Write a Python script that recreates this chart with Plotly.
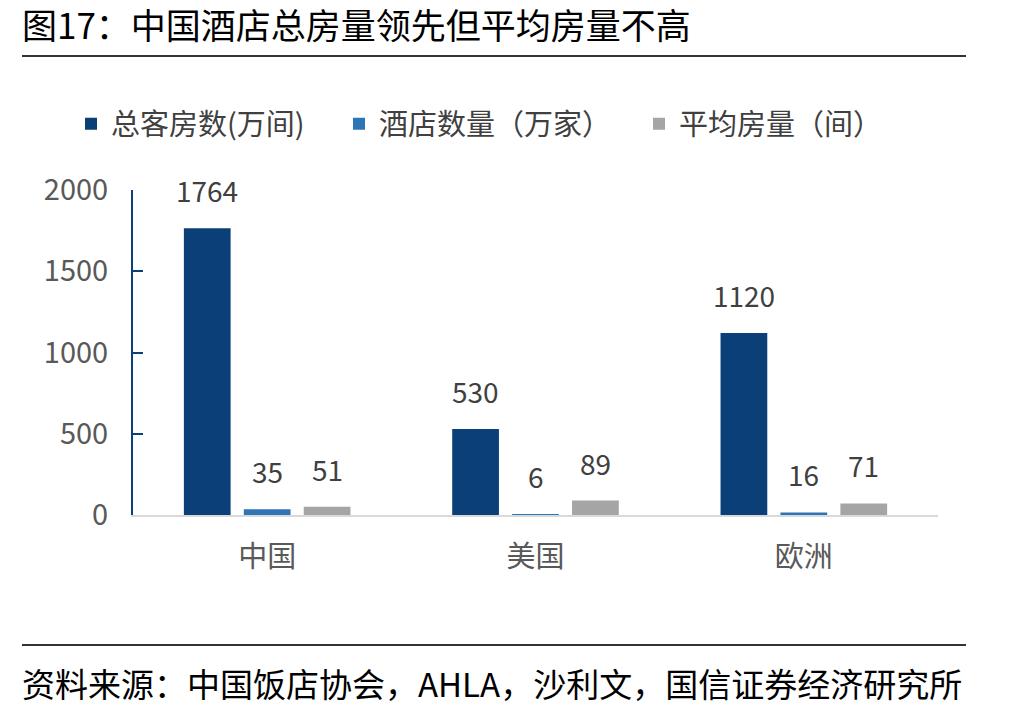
import plotly.graph_objects as go

# ---- data ----
categories = ["中国", "美国", "欧洲"]
series_names = ["总客房数(万间)", "酒店数量（万家）", "平均房量（间）"]
total_rooms = [1764, 530, 1120]
hotel_count = [35, 6, 16]
avg_rooms = [51, 89, 71]
y_ticks = [0, 500, 1000, 1500, 2000]

title_text = "图17：中国酒店总房量领先但平均房量不高"
source_text = "资料来源：中国饭店协会，AHLA，沙利文，国信证券经济研究所"
source_text2 = "整理"

# ---- style ----
W, H = 1016, 712
FONT = "Noto Sans CJK SC"
colors = ["#0B3F78", "#2E75B6", "#A5A5A5"]
plot_left, plot_right, plot_top, plot_bottom = 133, 938, 190, 515
bargap, bargroupgap = 0.33, 0.22
legend_ids = ["legend", "legend2", "legend3"]
legend_px = [71, 339, 639]

def px_x(p):
    return p / W

def px_y(p):
    return 1 - p / H

fig = go.Figure()
all_series = [total_rooms, hotel_count, avg_rooms]
for name, vals, col, lid in zip(series_names, all_series, colors, legend_ids):
    fig.add_trace(go.Bar(x=categories, y=vals, name=name, marker_color=col,
                         marker_line_width=0, hoverinfo="skip", legend=lid,
                         showlegend=True))

# value labels positioned via axis coordinates
cat_w = (plot_right - plot_left) / len(categories)
slot = (1 - bargap) * cat_w / len(all_series)
for si, vals in enumerate(all_series):
    off = (si - (len(all_series) - 1) / 2) * slot
    for c, v in zip(categories, vals):
        fig.add_annotation(x=c, y=v, xref="x", yref="y", text=str(v),
                           showarrow=False, xshift=off, yshift=38,
                           yanchor="middle", xanchor="center",
                           font=dict(family=FONT, size=28, color="#404040"))

legend_style = dict(orientation="h", xanchor="left", yanchor="middle",
                    y=px_y(124), font=dict(family=FONT, size=29, color="#404040"),
                    bgcolor="rgba(0,0,0,0)", itemclick=False, itemdoubleclick=False)

fig.update_layout(
    width=W, height=H,
    showlegend=True,
    margin=dict(l=0, r=0, t=0, b=0, autoexpand=False),
    paper_bgcolor="white", plot_bgcolor="white",
    barmode="group", bargap=bargap, bargroupgap=bargroupgap,
    font=dict(family=FONT, color="#595959"),
    legend=dict(x=px_x(legend_px[0]), **legend_style),
    legend2=dict(x=px_x(legend_px[1]), **legend_style),
    legend3=dict(x=px_x(legend_px[2]), **legend_style),
    xaxis=dict(domain=[px_x(plot_left), px_x(plot_right)], showline=True,
               linecolor="#D9D9D9", linewidth=2, ticks="", showgrid=False,
               automargin=False,
               tickfont=dict(family=FONT, size=29, color="#595959"),
               ticklabelstandoff=15),
    yaxis=dict(domain=[px_y(plot_bottom), px_y(plot_top)], range=[0, 2000],
               tickvals=y_ticks, showline=True, linecolor="#0B3F78", linewidth=2,
               ticks="inside", ticklen=10, tickwidth=2, tickcolor="#0B3F78",
               showgrid=False, zeroline=False, automargin=False,
               tickfont=dict(family=FONT, size=29, color="#595959"),
               ticklabelstandoff=17),
)

# title, rules, source
fig.add_annotation(x=px_x(20), y=px_y(24), xref="paper", yref="paper",
                   text=title_text, showarrow=False, xanchor="left", yanchor="middle",
                   font=dict(family=FONT, size=35, color="#000000"))
fig.add_shape(type="line", xref="paper", yref="paper", x0=px_x(22), x1=px_x(966),
              y0=px_y(56), y1=px_y(56), line=dict(color="#333333", width=2))
fig.add_shape(type="line", xref="paper", yref="paper", x0=px_x(22), x1=px_x(966),
              y0=px_y(645), y1=px_y(645), line=dict(color="#333333", width=2))
fig.add_annotation(x=px_x(20), y=px_y(683), xref="paper", yref="paper",
                   text=source_text, showarrow=False, xanchor="left", yanchor="middle",
                   font=dict(family=FONT, size=33, color="#000000"))
fig.add_annotation(x=px_x(20), y=px_y(727), xref="paper", yref="paper",
                   text=source_text2, showarrow=False, xanchor="left", yanchor="middle",
                   font=dict(family=FONT, size=33, color="#000000"))

fig.write_html("out.html")
